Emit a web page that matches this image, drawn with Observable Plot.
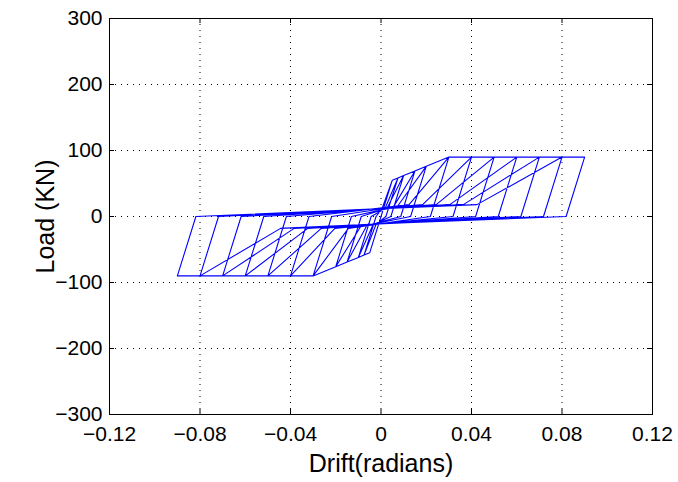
<!DOCTYPE html>
<html>
<head>
<meta charset="utf-8">
<script src="https://cdn.jsdelivr.net/npm/d3@7"></script>
<script src="https://cdn.jsdelivr.net/npm/@observablehq/plot@0.6"></script>
<style>
  html, body { margin: 0; padding: 0; background: #fff; }
  #chart svg { display: block; }
</style>
</head>
<body>
<div id="chart"></div>
<script>
// Hysteresis path vertices (drift in radians, load in kN)
const drift = [
  0, -0.005, 0.005, 0,
  -0.005, -0.0075, -0.00218, 0.00036, 0.005, 0.0075, 0.00218,
  -0.00216, -0.0075, -0.01, -0.00436, 0.00172, 0.0075, 0.01, 0.00436,
  -0.00352, -0.01, -0.015, -0.00873, 0.00265, 0.01, 0.015, 0.00873,
  -0.00624, -0.015, -0.02, -0.01309, 0.00537, 0.015, 0.02, 0.01309,
  -0.00896, -0.02, -0.03, -0.02182, 0.00721, 0.02, 0.03, 0.02182,
  -0.0144, -0.03, -0.04, -0.03182, 0.0124, 0.03, 0.04, 0.03182,
  -0.0204, -0.04, -0.05, -0.04182, 0.0184, 0.04, 0.05, 0.04182,
  -0.0264, -0.05, -0.06, -0.05182, 0.0244, 0.05, 0.06, 0.05182,
  -0.0324, -0.06, -0.07, -0.06182, 0.0304, 0.06, 0.07, 0.06182,
  -0.0384, -0.07, -0.08, -0.07182, 0.0364, 0.07, 0.08, 0.07182,
  -0.0444, -0.08, -0.09, -0.08182, 0.0424, 0.08, 0.09, 0.08182,
  0
];
const load = [
  0, -55, 55, 0,
  -55, -58.5, 0, 11, 55, 58.5, 0,
  -11.7, -58.5, -62, 0, 11.7, 58.5, 62, 0,
  -12.4, -62, -69, 0, 12.4, 62, 69, 0,
  -13.8, -69, -76, 0, 13.8, 69, 76, 0,
  -15.2, -76, -90, 0, 15.2, 76, 90, 0,
  -18, -90, -90, 0, 18, 90, 90, 0,
  -18, -90, -90, 0, 18, 90, 90, 0,
  -18, -90, -90, 0, 18, 90, 90, 0,
  -18, -90, -90, 0, 18, 90, 90, 0,
  -18, -90, -90, 0, 18, 90, 90, 0,
  -18, -90, -90, 0, 18, 90, 90, 0,
  -11
];

const xTicks = [-0.12, -0.08, -0.04, 0, 0.04, 0.08, 0.12];
const xTickLabels = ["\u22120.12", "\u22120.08", "\u22120.04", "0", "0.04", "0.08", "0.12"];
const yTicks = [-300, -200, -100, 0, 100, 200, 300];
const yTickLabels = ["\u2212300", "\u2212200", "\u2212100", "0", "100", "200", "300"];
const xLabel = "Drift(radians)";
const yLabel = "Load (KN)";

const points = drift.map((d, i) => ({drift: d, load: load[i]}));
const xt = xTicks.map((v, i) => ({v, label: xTickLabels[i]}));
const yt = yTicks.map((v, i) => ({v, label: yTickLabels[i]}));

const W = 678, H = 482;
const mTop = 18, mBottom = 68, mLeft = 109, mRight = 26;
const innerH = H - mTop - mBottom, innerW = W - mLeft - mRight;
const tickLen = 5;

const chart = Plot.plot({
  width: W,
  height: H,
  marginTop: mTop,
  marginBottom: mBottom,
  marginLeft: mLeft,
  marginRight: mRight,
  style: {fontFamily: "'Liberation Sans', Arial, Helvetica, sans-serif", background: "#fff", color: "#000"},
  x: {domain: [-0.12, 0.12], axis: null},
  y: {domain: [-300, 300], axis: null},
  marks: [
    // dotted grid
    Plot.ruleX(xTicks, {stroke: "#000", strokeWidth: 1, strokeDasharray: "1,5"}),
    Plot.ruleY(yTicks, {stroke: "#000", strokeWidth: 1, strokeDasharray: "1,5"}),
    // inward ticks on all four sides
    Plot.tickX(xTicks, {x: d => d, stroke: "#000", insetTop: innerH - tickLen}),
    Plot.tickX(xTicks, {x: d => d, stroke: "#000", insetBottom: innerH - tickLen}),
    Plot.tickY(yTicks, {y: d => d, stroke: "#000", insetRight: innerW - tickLen}),
    Plot.tickY(yTicks, {y: d => d, stroke: "#000", insetLeft: innerW - tickLen}),
    // data
    Plot.line(points, {x: "drift", y: "load", stroke: "#0000ff", strokeWidth: 1.1}),
    Plot.frame({stroke: "#000", strokeWidth: 1}),
    // tick labels
    Plot.text(xt, {x: "v", text: "label", frameAnchor: "bottom", lineAnchor: "top", dy: 12, fontSize: 21, fill: "#000"}),
    Plot.text(yt, {y: "v", text: "label", frameAnchor: "left", textAnchor: "end", dx: -7, fontSize: 21, fill: "#000"}),
    // axis labels
    Plot.text([xLabel], {frameAnchor: "bottom", lineAnchor: "top", textAnchor: "middle", dy: 40, fontSize: 25, fill: "#000"}),
    Plot.text([yLabel], {frameAnchor: "left", textAnchor: "middle", rotate: -90, dx: -64, fontSize: 25, fill: "#000"})
  ]
});
document.getElementById("chart").appendChild(chart);
</script>
</body>
</html>
